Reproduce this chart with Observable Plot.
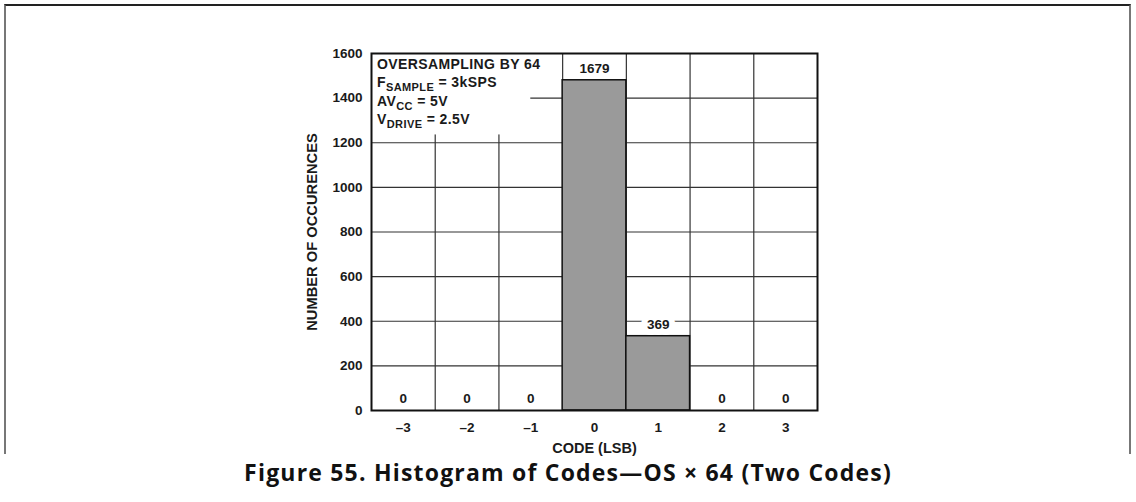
<!DOCTYPE html>
<html>
<head>
<meta charset="utf-8">
<script src="https://cdn.jsdelivr.net/npm/d3@7"></script>
<script src="https://cdn.jsdelivr.net/npm/@observablehq/plot@0.6"></script>
<style>
  html, body { margin: 0; padding: 0; background: #fff; }
  #wrap { position: relative; width: 1136px; height: 502px; overflow: hidden; }
  #border { position: absolute; left: 4px; top: 4px; width: 1127px; height: 450px;
            border-left: 2px solid #777; border-top: 2px solid #222; border-right: 2px solid #777; box-sizing: border-box; }
  #chart { position: absolute; left: 0; top: 0; }
  #caption { position: absolute; left: 0; top: 456px; width: 1136px; text-align: center;
             font-family: "Open Sans", sans-serif; font-weight: 700; font-size: 23px; letter-spacing: 1.2px; color: #111; }
</style>
</head>
<body>
<div id="wrap">
  <div id="border"></div>
  <div id="chart"></div>
  <div id="caption">Figure 55. Histogram of Codes—OS × 64 (Two Codes)</div>
</div>
<script>
// ---- data ----
const codes = [-3, -2, -1, 0, 1, 2, 3];
const codeTickLabels = ["–3", "–2", "–1", "0", "1", "2", "3"];
const barHeights = [0, 0, 0, 1480, 333, 0, 0];          // heights as drawn
const countLabels = ["0", "0", "0", "1679", "369", "0", "0"];
const yTicks = [0, 200, 400, 600, 800, 1000, 1200, 1400, 1600];
const gridY = [200, 400, 600, 800, 1000, 1200, 1400];
const gridX = [-2.5, -1.5, -0.5, 0.5, 1.5, 2.5];
const noteLines = [
  ["OVERSAMPLING BY 64", "", ""],
  ["F", "SAMPLE", " = 3kSPS"],
  ["AV", "CC", " = 5V"],
  ["V", "DRIVE", " = 2.5V"]
];
// annotation backdrop extents (data units)
const noteBox = {x1: -3.5, x2: -1.0, y1: 1235, y2: 1600};

const bars = codes.map((c, i) => ({code: c, value: barHeights[i], label: countLabels[i]}));
const font = "'Liberation Sans', Arial, sans-serif";

const noteMark = (index, scales) => {
  const g = d3.create("svg:g")
    .attr("font-family", font).attr("font-weight", "bold").attr("font-size", 14)
    .attr("letter-spacing", 0.4)
    .attr("text-anchor", "start").attr("fill", "#1a1a1a");
  const x0 = scales.x(noteBox.x1) + 6;
  const y0 = scales.y(noteBox.y2) + 16;
  noteLines.forEach((ln, i) => {
    const t = g.append("text").attr("x", x0).attr("y", y0 + i * 18.3);
    t.append("tspan").text(ln[0]);
    if (ln[1]) t.append("tspan").attr("font-size", 11).attr("dy", 4).text(ln[1]);
    if (ln[2]) t.append("tspan").attr("dy", ln[1] ? -4 : 0).text(ln[2]);
  });
  return g.node();
};

const plot = Plot.plot({
  width: 1136,
  height: 462,
  marginLeft: 371,
  marginRight: 319,
  marginTop: 53,
  marginBottom: 52,
  style: {fontFamily: font, fontWeight: "bold", fontSize: "13.5px", color: "#1a1a1a", background: "transparent"},
  x: {domain: [-3.5, 3.5]},
  y: {domain: [0, 1600]},
  marks: [
    Plot.ruleY(gridY, {stroke: "#333", strokeWidth: 1.2, strokeOpacity: 1}),
    Plot.ruleX(gridX, {stroke: "#333", strokeWidth: 1.2, strokeOpacity: 1}),
    Plot.rect([noteBox], {x1: "x1", x2: "x2", y1: "y1", y2: "y2", fill: "white"}),
    Plot.rectY(bars.filter(d => d.value > 0), {x1: d => d.code - 0.5, x2: d => d.code + 0.5, y1: 0, y2: "value",
      fill: "#9a9a9a", stroke: "#111", strokeWidth: 1.5}),
    Plot.text(bars, {x: "code", y: "value", text: "label", dy: -12, fill: "#1a1a1a",
      stroke: "white", strokeWidth: 12, fontSize: 13.5, fontWeight: "bold"}),
    noteMark,
    Plot.frame({stroke: "#111", strokeWidth: 2}),
    Plot.axisY({ticks: yTicks, tickFormat: d => String(d), tickSize: 0, tickPadding: 9, fontSize: 13.5, fontWeight: "bold"}),
    Plot.axisY({ticks: [], label: "NUMBER OF OCCURENCES", labelAnchor: "center", labelOffset: 65, labelArrow: "none", fontSize: 14.7, fontWeight: "bold"}),
    Plot.axisX({ticks: codes, tickFormat: (d) => codeTickLabels[codes.indexOf(d)], tickSize: 0, tickPadding: 12,
      fontSize: 13.5, fontWeight: "bold"}),
    Plot.axisX({ticks: [], label: "CODE (LSB)", labelAnchor: "center", labelOffset: 42, labelArrow: "none", fontSize: 14.5, fontWeight: "bold"})
  ]
});
document.getElementById("chart").appendChild(plot);
</script>
</body>
</html>
